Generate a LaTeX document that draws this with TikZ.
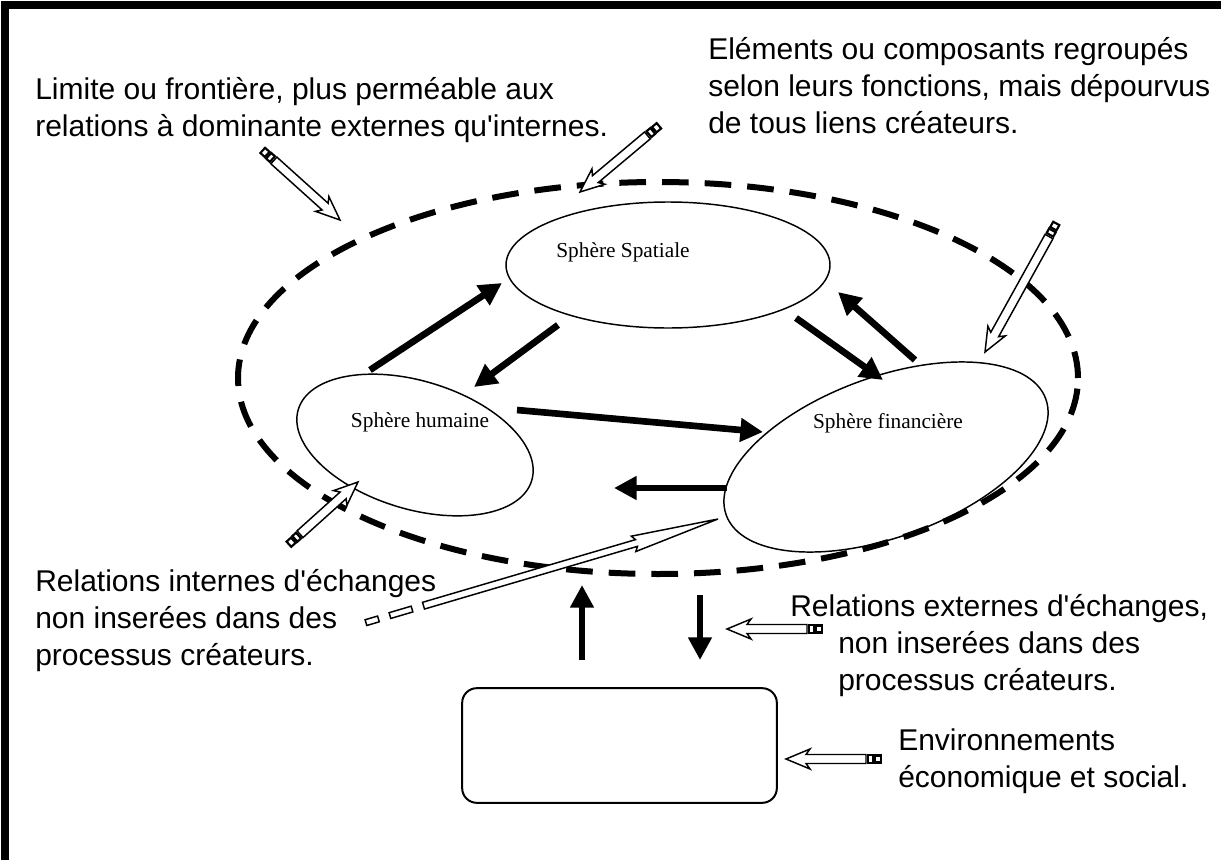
\documentclass[tikz,border=0pt]{standalone}
\usepackage{fontspec}
\setmainfont{Liberation Serif}
\setsansfont{Liberation Sans}
\usetikzlibrary{arrows.meta,shapes.geometric}
\newcommand\sq{\XeTeXglyph\XeTeXcharglyph"27\relax}
\begin{document}
\begin{tikzpicture}[x=0.75pt,y=-0.75pt,
  sphere/.style={draw, line width=1.1pt, ellipse, inner sep=0pt},
  lbl/.style={font=\fontsize{16}{19}\selectfont, inner sep=0pt},
  note/.style={font=\sffamily\fontsize{22.5}{27.75}\selectfont, align=left, inner sep=0pt, anchor=west},
  flow/.style={line width=5pt, -{Triangle[length=17pt,width=17pt]}},
  pencil/.pic={
    \draw[line width=1.1pt, fill=white, line join=miter] (0,0) -- (-24,10) -- (-20,4.5) -- (-#1+16,4.5) -- (-#1+16,-4.5) -- (-20,-4.5) -- (-24,-10) -- cycle;
    \draw[line width=1.6pt, fill=white] (-#1+14,-3.8) rectangle (-#1+9,3.8);
    \draw[line width=1.6pt, fill=white] (-#1+7,-3.5) rectangle (-#1+1,3.5);
  }
]
\useasboundingbox (0,0) rectangle (1221,860);
% frame
\draw[line width=5.5pt, line join=miter] (5,860) -- (5,5) -- (1221,5);

% big dashed boundary
\node[draw, ellipse, line width=4.5pt, dash pattern=on 20pt off 12pt, minimum width=630pt, minimum height=294pt, inner sep=0pt] (bound) at (658,378) {};

% spheres
\node[sphere, minimum width=243pt, minimum height=94.5pt] (spat) at (668,265) {};
\node[sphere, minimum width=183pt, minimum height=96pt, rotate=-17] (hum) at (415,445) {};
\node[sphere, minimum width=255pt, minimum height=120pt, rotate=20] (fin) at (886,457) {};
\node[lbl] (tspat) at (623,252) {Sphère Spatiale};
\node[lbl] (thum) at (420,422) {Sphère humaine};
\node[lbl] (tfin) at (888,423) {Sphère financière};

% environment box
\node[draw, line width=1.5pt, rounded corners=11pt, minimum width=236pt, minimum height=86pt] (env) at (619.5,745.5) {};

% arrow end points
\coordinate (a1s) at (370,370); \coordinate (a1e) at (502,283);
\coordinate (a2s) at (558,325); \coordinate (a2e) at (474,387);
\coordinate (a3s) at (796,318); \coordinate (a3e) at (883,380);
\coordinate (a4s) at (915,360); \coordinate (a4e) at (838,292);
\coordinate (a5s) at (517,410); \coordinate (a5e) at (763,432);
\coordinate (a6s) at (727,488); \coordinate (a6e) at (614,488);
\coordinate (a7s) at (582,660); \coordinate (a7e) at (582,585);
\coordinate (a8s) at (700,595); \coordinate (a8e) at (700,660);
\draw[flow] (a1s) -- (a1e);
\draw[flow] (a2s) -- (a2e);
\draw[flow] (a3s) -- (a3e);
\draw[flow] (a4s) -- (a4e);
\draw[flow] (a5s) -- (a5e);
\draw[flow] (a6s) -- (a6e);
\draw[flow] (a7s) -- (a7e);
\draw[flow] (a8s) -- (a8e);

% hollow pencil arrows
\pic[rotate=-42] at (340,220) {pencil=105};
\pic[rotate=-140] at (580,192) {pencil=104};
\pic[rotate=-119] at (985,352) {pencil=148};
\pic[rotate=42] at (358,482) {pencil=94};
\pic[rotate=180] at (727,629) {pencil=96};
\pic[rotate=180] at (786,759) {pencil=96};

% long internal arrow
\begin{scope}[shift={(718,519)}, rotate=16.4]
  \draw[line width=1.1pt, fill=white, line join=miter] (0,0) -- (-88,8) -- (-85,3.5) -- (-307,3.5) -- (-307,-3.5) -- (-85,-3.5) -- (-88,-8) -- cycle;
  \draw[line width=1.1pt, fill=white] (-342,-3) rectangle (-319,3);
  \draw[line width=1.1pt, fill=white] (-367,-3) rectangle (-354,3);
\end{scope}

% texts
\node[note] (n1) at (35,110) {Limite ou frontière, plus perméable aux\\relations à dominante externes qu\sq internes.};
\node[note] (n2) at (708,86) {Eléments ou composants regroupés\\selon leurs fonctions, mais dépourvus\\de tous liens créateurs.};
\node[note] (n3) at (35,621) {Relations internes d\sq échanges\\non inserées dans des\\processus créateurs.};
\node[note] (n4) at (790,646) {Relations externes d\sq échanges,\\\hspace*{36pt}non inserées dans des\\\hspace*{36pt}processus créateurs.};
\node[note] (n5) at (898,761) {Environnements\\économique et social.};
\end{tikzpicture}
\end{document}
